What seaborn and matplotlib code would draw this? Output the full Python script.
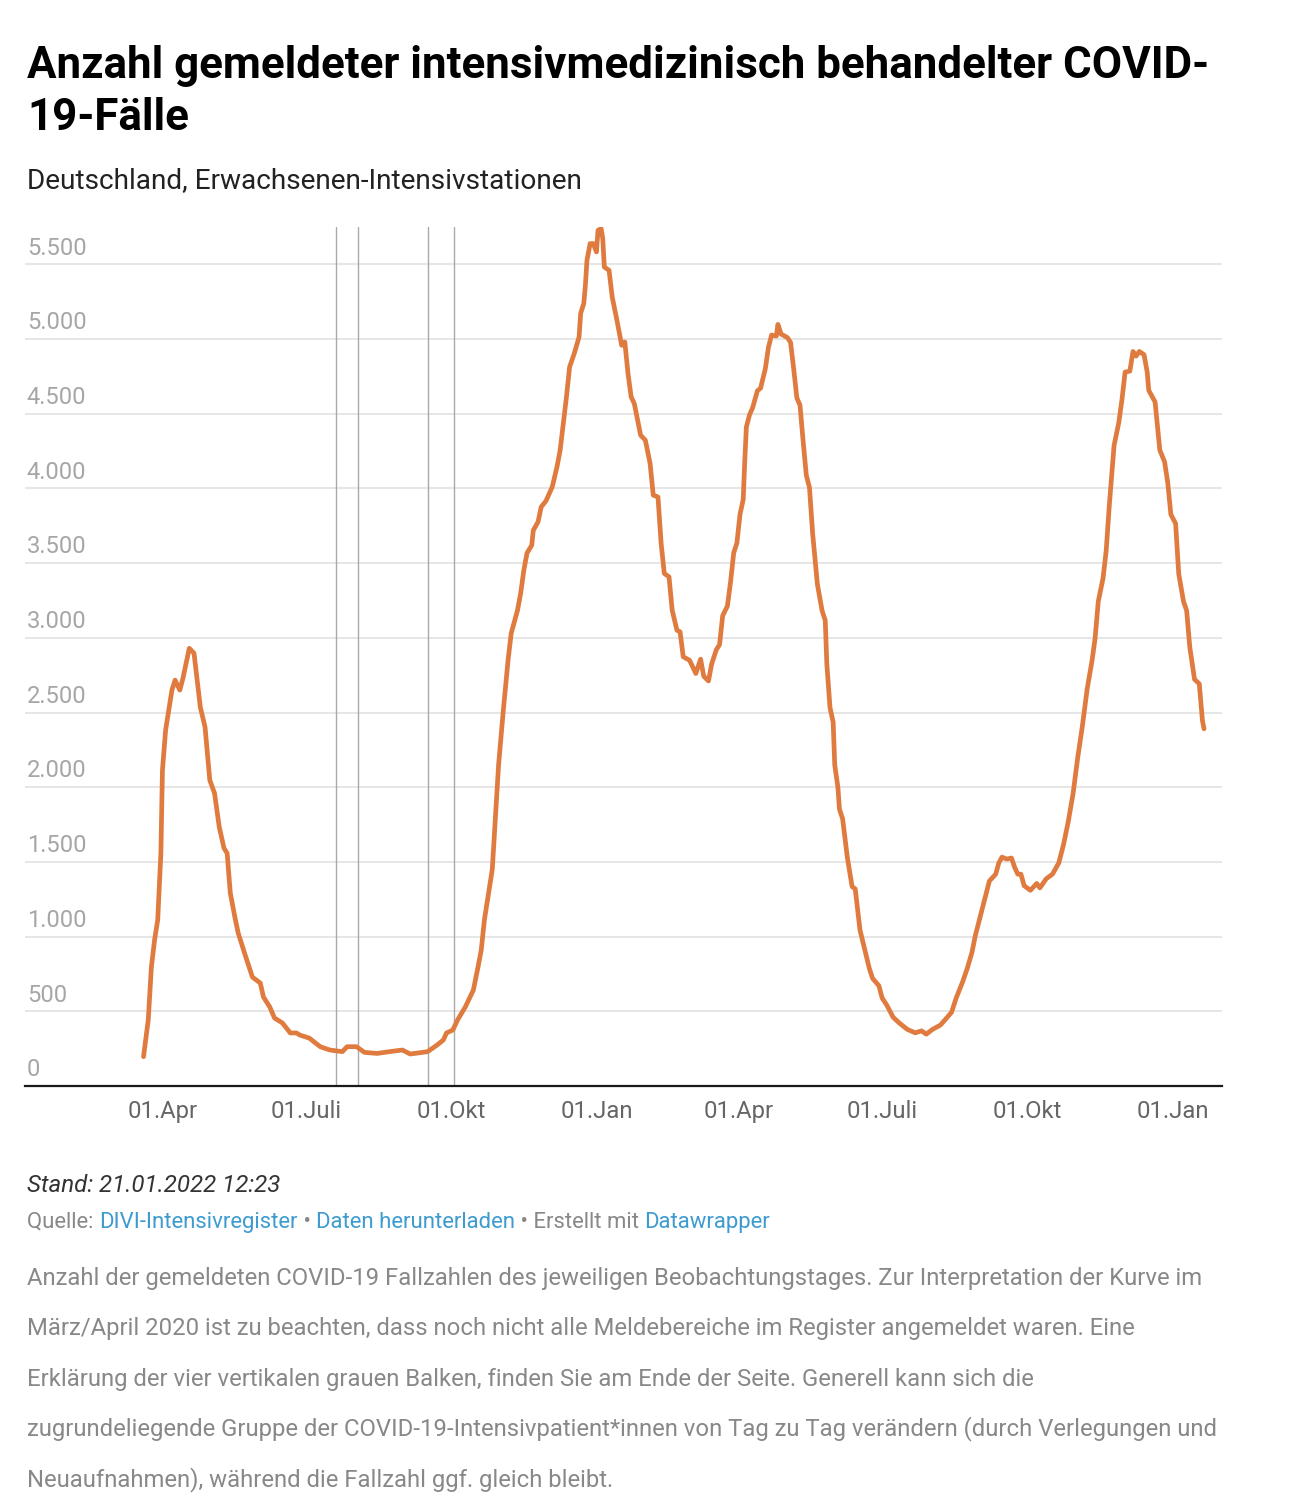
import pandas as pd
import numpy as np
import matplotlib
matplotlib.use("Agg")
import matplotlib.pyplot as plt
import matplotlib.transforms as mtransforms
import seaborn as sns

# Tage seit dem 01.04.2020 und gemeldete Fälle
tage = [
    -12, -9, -7, -5, -3, -1, 0, 2, 4, 6, 8, 11, 13, 15, 17, 20, 22, 24, 27, 30,
    33, 36, 39, 41, 43, 46, 48, 52, 57, 62, 64, 68, 71, 76, 81, 85, 87, 93, 100, 106,
    114, 117, 123, 128, 136, 144, 152, 157, 163, 168, 174, 178, 180, 184, 187, 192, 195, 197, 200, 202,
    204, 206, 209, 211, 213, 216, 219, 221, 225, 227, 229, 231, 234, 235, 238, 240, 243, 247, 250, 252,
    254, 256, 258, 261, 264, 265, 267, 268, 269, 271, 273, 275, 276, 278, 279, 280, 283, 285, 288, 291,
    293, 295, 297, 299, 303, 306, 309, 311, 314, 316, 318, 321, 323, 326, 328, 330, 334, 338, 341, 343,
    346, 348, 351, 353, 355, 358, 360, 362, 364, 366, 368, 369, 370, 372, 374, 377, 379, 382, 384, 386,
    389, 390, 392, 396, 398, 400, 402, 404, 406, 408, 410, 412, 415, 418, 420, 421, 423, 425, 426, 428,
    429, 431, 434, 437, 439, 442, 445, 448, 450, 454, 456, 459, 463, 467, 472, 477, 481, 484, 488, 493,
    496, 500, 503, 507, 510, 513, 515, 518, 521, 524, 528, 530, 532, 535, 538, 540, 542, 544, 546, 550,
    554, 556, 560, 564, 568, 571, 574, 577, 580, 583, 586, 589, 591, 593, 596, 598, 600, 603, 606, 608,
    610, 613, 615, 617, 619, 622, 624, 625, 629, 632, 635, 637, 639, 642, 644, 647, 649, 651, 654, 657,
    659, 660,
]
faelle = [
    196, 442, 798, 977, 1111, 1558, 2114, 2382, 2516, 2650, 2717, 2650, 2730, 2830, 2930, 2897, 2717, 2536, 2402, 2047,
    1960, 1733, 1592, 1558, 1291, 1124, 1024, 890, 729, 689, 596, 529, 455, 422, 355, 355, 341, 321, 263, 241,
    230, 263, 263, 225, 218, 230, 241, 214, 223, 230, 274, 308, 355, 375, 442, 531, 598, 642, 798, 910,
    1111, 1245, 1450, 1800, 2150, 2516, 2850, 3031, 3185, 3299, 3453, 3567, 3620, 3720, 3776, 3876, 3916, 4010, 4144, 4256,
    4436, 4612, 4813, 4905, 5014, 5172, 5239, 5360, 5527, 5639, 5639, 5583, 5728, 5739, 5672, 5482, 5460, 5281, 5125, 4958,
    4980, 4769, 4612, 4568, 4356, 4323, 4167, 3955, 3943, 3631, 3431, 3408, 3185, 3051, 3040, 2873, 2850, 2761, 2857, 2743,
    2711, 2824, 2921, 2954, 3148, 3213, 3375, 3569, 3634, 3828, 3925, 4185, 4411, 4492, 4541, 4654, 4671, 4800, 4945, 5027,
    5020, 5098, 5033, 5010, 4978, 4800, 4606, 4557, 4314, 4087, 4006, 3699, 3359, 3181, 3116, 2824, 2533, 2436, 2150, 2000,
    1853, 1788, 1529, 1335, 1319, 1044, 914, 784, 720, 671, 590, 541, 460, 421, 379, 356, 369, 347, 379, 408,
    444, 493, 590, 696, 788, 896, 1003, 1126, 1249, 1372, 1418, 1494, 1532, 1519, 1526, 1464, 1418, 1418, 1341, 1310,
    1356, 1326, 1387, 1418, 1494, 1617, 1771, 1955, 2200, 2415, 2660, 2844, 2998, 3244, 3397, 3581, 3888, 4287, 4441, 4594,
    4779, 4785, 4917, 4886, 4917, 4895, 4779, 4656, 4579, 4256, 4179, 4041, 3826, 3765, 3427, 3244, 3182, 2937, 2722, 2692,
    2446, 2391,
]

# vier vertikale graue Balken
balken = ["2020-07-20", "2020-08-03", "2020-09-16", "2020-10-03"]

x_ticks = ["2020-04-01", "2020-07-01", "2020-10-01", "2021-01-01",
           "2021-04-01", "2021-07-01", "2021-10-01", "2022-01-01"]
x_labels = ["01.Apr", "01.Juli", "01.Okt", "01.Jan", "01.Apr", "01.Juli", "01.Okt", "01.Jan"]
y_ticks = [0, 500, 1000, 1500, 2000, 2500, 3000, 3500, 4000, 4500, 5000, 5500]
y_labels = ["0", "500", "1.000", "1.500", "2.000", "2.500", "3.000", "3.500",
            "4.000", "4.500", "5.000", "5.500"]

titel = ["Anzahl gemeldeter intensivmedizinisch behandelter COVID-", "19-Fälle"]
untertitel = "Deutschland, Erwachsenen-Intensivstationen"
stand = "Stand: 21.01.2022 12:23"
beschreibung = [
    "Anzahl der gemeldeten COVID-19 Fallzahlen des jeweiligen Beobachtungstages. Zur Interpretation der Kurve im",
    "März/April 2020 ist zu beachten, dass noch nicht alle Meldebereiche im Register angemeldet waren. Eine",
    "Erklärung der vier vertikalen grauen Balken, finden Sie am Ende der Seite. Generell kann sich die",
    "zugrundeliegende Gruppe der COVID-19-Intensivpatient*innen von Tag zu Tag verändern (durch Verlegungen und",
    "Neuaufnahmen), während die Fallzahl ggf. gleich bleibt.",
]
quelle = [
    ("Quelle: ", "#888888"),
    ("DIVI-Intensivregister", "#3d9bd0"),
    (" • ", "#888888"),
    ("Daten herunterladen", "#3d9bd0"),
    (" • Erstellt mit ", "#888888"),
    ("Datawrapper", "#3d9bd0"),
]

sns.set_style("white")
plt.rcParams["font.family"] = ["Roboto", "DejaVu Sans"]

start = pd.Timestamp("2020-04-01")
df = pd.DataFrame({
    "datum": start + pd.to_timedelta(tage, unit="D"),
    "faelle": faelle,
})

W, H = 1298, 1510
fig = plt.figure(figsize=(W / 100, H / 100), dpi=100)
ax_left, ax_right, ax_top, ax_bottom = 25, 1222, 227, 1086
ax = fig.add_axes([ax_left / W, 1 - ax_bottom / H, (ax_right - ax_left) / W, (ax_bottom - ax_top) / H])

for d in balken:
    ax.axvline(pd.Timestamp(d), color="#a9a9a9", lw=1.0, zorder=1)

for v in y_ticks[1:]:
    ax.axhline(v, color="#e2e2e2", lw=1.2, zorder=0)

sns.lineplot(data=df, x="datum", y="faelle", ax=ax, color="#e07b3f", lw=3.4,
             solid_capstyle="round", solid_joinstyle="round", zorder=3)

ax.set_xlim(start - pd.Timedelta(days=87.1), start + pd.Timedelta(days=671.4))
ax.set_ylim(0, 5750)
ax.set_xticks([pd.Timestamp(t) for t in x_ticks])
ax.set_xticklabels(x_labels, fontsize=17.2, color="#666666")
ax.tick_params(axis="x", length=0, pad=10)
ax.set_yticks([])
ax.set_xlabel("")
ax.set_ylabel("")
for s in ["left", "right", "top"]:
    ax.spines[s].set_visible(False)
ax.spines["bottom"].set_color("#1a1a1a")
ax.spines["bottom"].set_linewidth(1.6)
ax.spines["bottom"].set_zorder(4)

ytrans = mtransforms.blended_transform_factory(ax.transAxes, ax.transData)
for v, lab in zip(y_ticks, y_labels):
    ax.annotate(lab, xy=(0.0015, v), xycoords=ytrans, xytext=(0, 7), textcoords="offset points",
                ha="left", va="baseline", fontsize=17.1, color="#a6a6a6")

for i, zeile in enumerate(titel):
    fig.text(27 / W, 1 - (78 + i * 52) / H, zeile, fontsize=31.6, fontweight="bold",
             color="#000000", ha="left", va="baseline")
fig.text(27 / W, 1 - 188 / H, untertitel, fontsize=20.2, color="#222222", ha="left", va="baseline")
fig.text(27 / W, 1 - 1192 / H, stand, fontsize=17.4, style="italic", color="#333333",
         ha="left", va="baseline")

renderer = fig.canvas.get_renderer()
x_px = 27
for teil, farbe in quelle:
    t = fig.text(x_px / W, 1 - 1228 / H, teil, fontsize=15.9, color=farbe, ha="left", va="baseline")
    x_px = t.get_window_extent(renderer).x1

for i, zeile in enumerate(beschreibung):
    fig.text(27 / W, 1 - (1285 + i * 50.3) / H, zeile, fontsize=17.2, color="#888888",
             ha="left", va="baseline")

fig.savefig("out.png", dpi=100, facecolor="white")
